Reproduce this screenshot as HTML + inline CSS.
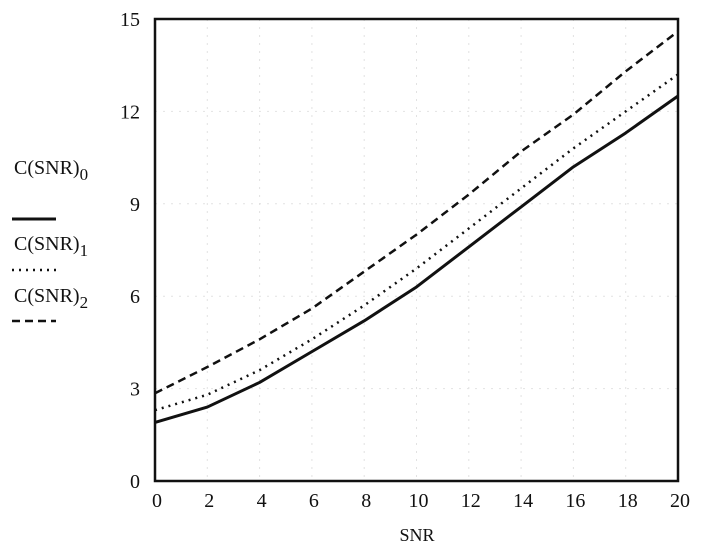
<!DOCTYPE html>
<html><head><meta charset="utf-8"><style>
body{margin:0;background:#fff}
svg{font-family:"Liberation Serif",serif;}
</style></head><body>
<svg id="chart" width="701" height="550" viewBox="0 0 701 550" xmlns="http://www.w3.org/2000/svg">
<g id="grid"></g>
<g id="series"></g>
<rect x="155" y="19" width="523" height="462" fill="none" stroke="#111" stroke-width="2.5"/>
<g id="ticks" font-size="20" fill="#111"></g>
<text x="417" y="541" font-size="18" text-anchor="middle" fill="#111">SNR</text>
<g font-size="20" fill="#111">
<text x="14" y="174">C(SNR)<tspan font-size="17" dy="6">0</tspan></text>
<line x1="12" y1="219" x2="56" y2="219" stroke="#111" stroke-width="3"/>
<text x="14" y="250">C(SNR)<tspan font-size="17" dy="6">1</tspan></text>
<line x1="12" y1="270" x2="56" y2="270" stroke="#111" stroke-width="2.5" stroke-dasharray="2,5"/>
<text x="14" y="302">C(SNR)<tspan font-size="17" dy="6">2</tspan></text>
<line x1="12" y1="321" x2="56" y2="321" stroke="#111" stroke-width="2.5" stroke-dasharray="8,5"/>
</g>
</svg>
<script>
const snr=[0,2,4,6,8,10,12,14,16,18,20];
const c0=[1.9,2.4,3.2,4.2,5.2,6.3,7.6,8.9,10.2,11.3,12.5];
const c1=[2.3,2.8,3.6,4.6,5.7,6.9,8.2,9.5,10.8,12.0,13.2];
const c2=[2.85,3.7,4.6,5.6,6.8,8.0,9.3,10.7,11.9,13.3,14.6];
const xTicks=[0,2,4,6,8,10,12,14,16,18,20];
const yTicks=[0,3,6,9,12,15];
const NS="http://www.w3.org/2000/svg";
const X=v=>155+v/20*523, Y=v=>481-v/15*462;
const grid=document.getElementById('grid'),ticks=document.getElementById('ticks'),ser=document.getElementById('series');
function mk(t,p,a){const e=document.createElementNS(NS,t);for(const k in a)e.setAttribute(k,a[k]);p.appendChild(e);return e;}
xTicks.forEach(t=>{
  const g=mk('line',grid,{x1:X(t),x2:X(t),y1:19,y2:481,stroke:'#e2e2e2','stroke-width':1,'stroke-dasharray':'2,6'});
  
  
  const l=mk('text',ticks,{x:X(t)+2,y:507,'text-anchor':'middle'});l.textContent=t;
  
  
});
yTicks.forEach(t=>{
  const g=mk('line',grid,{x1:155,x2:678,y1:Y(t),y2:Y(t),stroke:'#e2e2e2','stroke-width':1,'stroke-dasharray':'2,6'});
  
  
  const l=mk('text',ticks,{x:140,y:Y(t)+7,'text-anchor':'end'});l.textContent=t;
  
  
});
[[c0,'none',3,'series-c0'],[c1,'2,5',2.5,'series-c1'],[c2,'8,5',2.5,'series-c2']].forEach(([d,da,w,n])=>{
  const p=mk('polyline',ser,{points:snr.map((s,i)=>X(s)+','+Y(d[i])).join(' '),fill:'none',stroke:'#111','stroke-width':w,'stroke-dasharray':da,'stroke-linejoin':'round'});
  
  
});
</script>
</body></html>
